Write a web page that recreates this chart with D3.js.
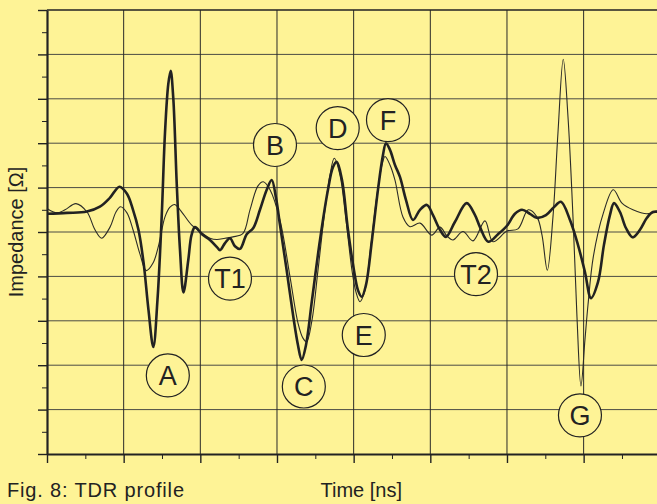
<!DOCTYPE html>
<html>
<head>
<meta charset="utf-8">
<script src="https://cdn.jsdelivr.net/npm/d3@7/dist/d3.min.js"></script>
<style>
    body { margin: 0; background: #fef396; }
    svg { display: block; font-family: "Liberation Sans", Arial, sans-serif; }
</style>
</head>
<body>
<script>
// measured TDR profile (thick line), time in ns and impedance in grid units
const thickTime = [0, 0.26, 0.52, 0.69, 0.82, 0.946, 1.043, 1.122, 1.193, 1.259, 1.324, 1.387, 1.441, 1.496, 1.539, 1.582, 1.613, 1.647, 1.692, 1.735,
    1.78, 1.843, 1.885, 1.93, 2.022, 2.126, 2.217, 2.257, 2.322, 2.387, 2.452, 2.517, 2.605, 2.691, 2.778, 2.866, 2.931, 2.987, 3.039, 3.126,
    3.213, 3.274, 3.322, 3.378, 3.457, 3.561, 3.665, 3.73, 3.779, 3.848, 3.926, 4.004, 4.056, 4.105, 4.161, 4.239, 4.317, 4.382, 4.422, 4.474,
    4.539, 4.604, 4.683, 4.774, 4.865, 4.956, 5.035, 5.126, 5.204, 5.322, 5.474, 5.583, 5.648, 5.756, 5.883, 6.0, 6.104, 6.196, 6.3, 6.387,
    6.509, 6.613, 6.704, 6.822, 6.926, 7.017, 7.096, 7.187, 7.265, 7.343, 7.396, 7.474, 7.552, 7.639, 7.735, 7.826, 7.904, 7.996];
const thickImpedance = [5.41, 5.43, 5.46, 5.57, 5.77, 6.02, 5.86, 5.5, 5.05, 4.32, 3.24, 2.41, 3.47, 5.34, 7.23, 8.33, 8.63, 8.02, 6.1, 4.59,
    3.64, 4.37, 4.93, 5.11, 4.95, 4.82, 4.66, 4.59, 4.75, 4.86, 4.68, 4.62, 4.95, 5.09, 5.5, 5.95, 6.17, 5.77, 5.16, 4.14,
    3.09, 2.45, 2.12, 2.45, 3.47, 4.82, 5.95, 6.46, 6.58, 6.17, 5.05, 4.14, 3.69, 3.54, 3.81, 4.82, 5.95, 6.73, 7.0, 6.85,
    6.51, 6.24, 5.72, 5.27, 5.5, 5.61, 5.38, 5.05, 4.89, 5.23, 5.65, 5.38, 5.11, 4.78, 4.95, 5.14, 5.41, 5.5, 5.41, 5.32,
    5.38, 5.56, 5.68, 5.27, 4.71, 4.1, 3.51, 3.87, 4.71, 5.38, 5.65, 5.45, 5.09, 4.88, 5.05, 5.32, 5.45, 5.45];

// reference profile (thin line)
const thinTime = [0, 0.13, 0.235, 0.378, 0.522, 0.626, 0.713, 0.822, 0.9, 0.959, 1.043, 1.122, 1.213, 1.295, 1.383, 1.452, 1.539, 1.604, 1.663, 1.735,
    1.885, 1.996, 2.126, 2.217, 2.322, 2.426, 2.557, 2.648, 2.752, 2.821, 2.909, 3.039, 3.17, 3.274, 3.339, 3.387, 3.457, 3.535, 3.626, 3.691,
    3.747, 3.822, 3.9, 3.978, 4.03, 4.083, 4.148, 4.226, 4.304, 4.37, 4.409, 4.474, 4.539, 4.643, 4.735, 4.865, 5.018, 5.126, 5.217, 5.296,
    5.426, 5.557, 5.713, 5.817, 6.0, 6.143, 6.278, 6.391, 6.457, 6.526, 6.6, 6.665, 6.734, 6.796, 6.861, 6.913, 6.965, 7.017, 7.057, 7.126,
    7.256, 7.387, 7.5, 7.643, 7.826, 7.996];
const thinImpedance = [5.53, 5.43, 5.5, 5.64, 5.45, 5.05, 4.86, 5.11, 5.45, 5.57, 5.43, 5.05, 4.5, 4.13, 4.3, 4.67, 5.34, 5.56, 5.62, 5.5,
    5.16, 5.01, 4.86, 4.83, 4.86, 4.89, 4.97, 5.5, 6.04, 6.13, 5.95, 5.27, 3.99, 2.95, 2.61, 2.53, 3.02, 4.14, 5.5, 6.28,
    6.66, 6.28, 5.27, 4.14, 3.65, 3.43, 3.69, 4.71, 5.83, 6.51, 6.7, 6.51, 6.17, 5.34, 5.12, 5.2, 4.93, 5.11, 4.91, 4.82,
    5.01, 4.8, 5.25, 4.78, 5.02, 5.07, 5.5, 5.34, 4.93, 4.14, 5.34, 7.23, 8.89, 7.59, 5.34, 3.09, 1.53, 2.57, 3.36, 4.44,
    5.42, 5.95, 5.65, 5.5, 5.41, 5.5];

// circled markers
const markerNames = ["A", "B", "C", "D", "E", "F", "T1", "T2", "G"];
const markerTime = [1.576, 2.974, 3.35, 3.792, 4.132, 4.448, 2.387, 5.596, 6.952];
const markerImpedance = [1.77, 6.96, 1.52, 7.34, 2.68, 7.52, 3.95, 4.05, 0.87];

// grid steps (no tick labels in the figure)
const timeTicks = [0, 1, 2, 3, 4, 5, 6, 7, 8];
const impedanceTicks = [0, 1, 2, 3, 4, 5, 6, 7, 8, 9, 10];

function main(){
    const width = 657;
    const height = 504;
    const ink = "#222";

    const svg = d3.select("body").append("svg")
        .attr("width", width)
        .attr("height", height)

    svg.append("rect")
        .attr("width", width)
        .attr("height", height)
        .attr("fill", "#fef396")

    const xScale = d3.scaleLinear().domain([0, 8]).range([47, 660.3]);
    const yScale = d3.scaleLinear().domain([0, 10]).range([454, 10]);

    //grid lines
    svg.append("g").selectAll("line")
        .data(impedanceTicks.slice(1, -1))
        .enter().append("line")
        .attr("x1", xScale(0))
        .attr("x2", width)
        .attr("y1", d => yScale(d))
        .attr("y2", d => yScale(d))
        .attr("stroke", "#4a4a44")
        .attr("stroke-width", 1)

    svg.append("g").selectAll("line")
        .data(timeTicks.slice(1))
        .enter().append("line")
        .attr("x1", d => xScale(d))
        .attr("x2", d => xScale(d))
        .attr("y1", yScale(10))
        .attr("y2", yScale(0))
        .attr("stroke", "#2a2a28")
        .attr("stroke-width", 1)

    //top border
    svg.append("line")
        .attr("x1", xScale(0))
        .attr("x2", width)
        .attr("y1", yScale(10))
        .attr("y2", yScale(10))
        .attr("stroke", ink)
        .attr("stroke-width", 1.6)

    //left axis with major and minor ticks
    const yAxis = svg.append("g")
        .attr("transform", "translate(" + xScale(0) + ",0)")
        .style("color", ink)
        .call(d3.axisLeft(yScale).tickValues(impedanceTicks).tickSize(9).tickSizeOuter(0).tickFormat(""))
    yAxis.select(".domain").attr("stroke-width", 2.2)
    yAxis.selectAll(".tick line").attr("stroke-width", 1.4)

    svg.append("g")
        .attr("transform", "translate(" + xScale(0) + ",0)")
        .style("color", ink)
        .call(d3.axisLeft(yScale).tickValues(impedanceTicks.slice(1).map(d => d - 0.5)).tickSize(5).tickFormat(""))
        .call(g => g.select(".domain").remove())

    //bottom axis
    const xAxis = svg.append("g")
        .attr("transform", "translate(0," + yScale(0) + ")")
        .style("color", ink)
        .call(d3.axisBottom(xScale).tickValues(timeTicks).tickSize(9).tickSizeOuter(0).tickFormat(""))
    xAxis.select(".domain").attr("stroke-width", 2.2)
    xAxis.selectAll(".tick line").attr("stroke-width", 1.4)

    svg.append("g")
        .attr("transform", "translate(0," + yScale(0) + ")")
        .style("color", ink)
        .call(d3.axisBottom(xScale).tickValues(timeTicks.slice(1).map(d => d - 0.5)).tickSize(5).tickFormat(""))
        .call(g => g.select(".domain").remove())

    //the two profiles
    const line = d3.line()
        .x(d => xScale(d[0]))
        .y(d => yScale(d[1]))
        .curve(d3.curveCatmullRom.alpha(0.5))

    svg.append("path")
        .datum(d3.zip(thinTime, thinImpedance))
        .attr("d", line)
        .attr("fill", "none")
        .attr("stroke", "#2b2b28")
        .attr("stroke-width", 1.1)

    svg.append("path")
        .datum(d3.zip(thickTime, thickImpedance))
        .attr("d", line)
        .attr("fill", "none")
        .attr("stroke", ink)
        .attr("stroke-width", 2.6)
        .attr("stroke-linejoin", "round")

    //circled markers
    const markers = svg.append("g").selectAll("g")
        .data(markerNames.map((name, i) => ({name: name, t: markerTime[i], v: markerImpedance[i]})))
        .enter().append("g")
        .attr("transform", d => "translate(" + xScale(d.t) + "," + yScale(d.v) + ")")

    markers.append("circle")
        .attr("r", 21.5)
        .attr("fill", "#fef396")
        .attr("stroke", ink)
        .attr("stroke-width", 1.2)

    markers.append("text")
        .attr("text-anchor", "middle")
        .attr("dy", "0.36em")
        .attr("font-size", "27px")
        .attr("fill", ink)
        .text(d => d.name)

    //axis titles and caption
    svg.append("text")
        .attr("transform", "translate(22.5," + 232 + ") rotate(-90)")
        .attr("text-anchor", "middle")
        .attr("font-size", "20px")
        .attr("fill", ink)
        .text("Impedance [Ω]")

    svg.append("text")
        .attr("x", 320.5)
        .attr("y", 497)
        .attr("font-size", "20px")
        .attr("fill", ink)
        .text("Time [ns]")

    svg.append("text")
        .attr("x", 7)
        .attr("y", 497)
        .attr("font-size", "20px")
        .attr("fill", ink)
        .attr("textLength", 177)
        .attr("lengthAdjust", "spacing")
        .text("Fig. 8: TDR profile")
}
main();
</script>
</body>
</html>
